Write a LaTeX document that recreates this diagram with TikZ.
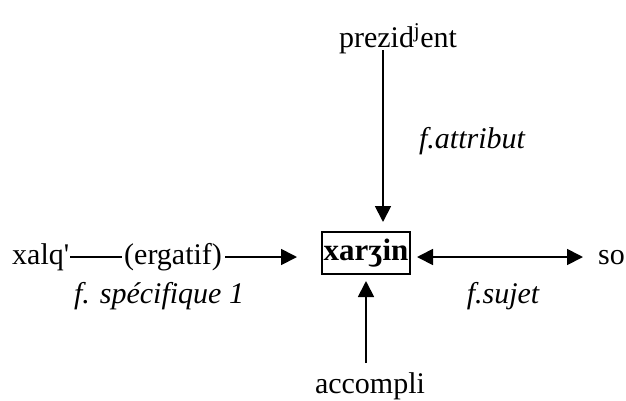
\documentclass[tikz,border=0pt]{standalone}
\usepackage{fontspec}
\setmainfont{Liberation Serif}[Ligatures=TeXOff]
\usetikzlibrary{arrows.meta}
\begin{document}
\begin{tikzpicture}[x=1pt,y=-1pt,
  txt/.style={font=\fontsize{30}{36}\selectfont, inner sep=0pt, anchor=base},
  lbl/.style={txt, font=\fontsize{30}{36}\selectfont\itshape},
  arr/.style={line width=1.8pt, -{Triangle[length=16pt,width=16pt]}},
  darr/.style={line width=1.8pt, {Triangle[length=16pt,width=16pt]}-{Triangle[length=16pt,width=16pt]}},
  plain/.style={line width=1.8pt}]
\useasboundingbox (0,0) rectangle (626,400);
\node[txt] (pres) at (398,47) {prezid\textsuperscript{j}ent};
\node[txt] (acc) at (370,393) {accompli};
\node[draw, line width=1.6pt, minimum width=88pt, minimum height=42pt, inner sep=0pt,
      font=\fontsize{31}{36}\selectfont\bfseries] (box) at (366,253) {xarʒin};
\node[txt, anchor=base west] (xalq) at (12,264) {xalq'};
\node[txt, anchor=base west] (erg) at (124,264) {(ergatif)};
\node[txt, anchor=base west] (so) at (598,264) {so};
\node[lbl] (fattr) at (472,148) {f.attribut};
\node[lbl] (fspec) at (159,303) {f. spécifique 1};
\node[lbl] (fsuj) at (503,303) {f.sujet};
\coordinate (t1) at (383,50);
\coordinate (t2) at (383,222);
\coordinate (b1) at (366,363);
\coordinate (b2) at (366,281);
\coordinate (l1) at (70,257);
\coordinate (l2) at (122,257);
\coordinate (l3) at (225,257);
\coordinate (l4) at (297,257);
\coordinate (r1) at (417,257);
\coordinate (r2) at (583,257);
\draw[arr] (t1) -- (t2);
\draw[arr] (b1) -- (b2);
\draw[plain] (l1) -- (l2);
\draw[arr] (l3) -- (l4);
\draw[darr] (r1) -- (r2);
\end{tikzpicture}
\end{document}
